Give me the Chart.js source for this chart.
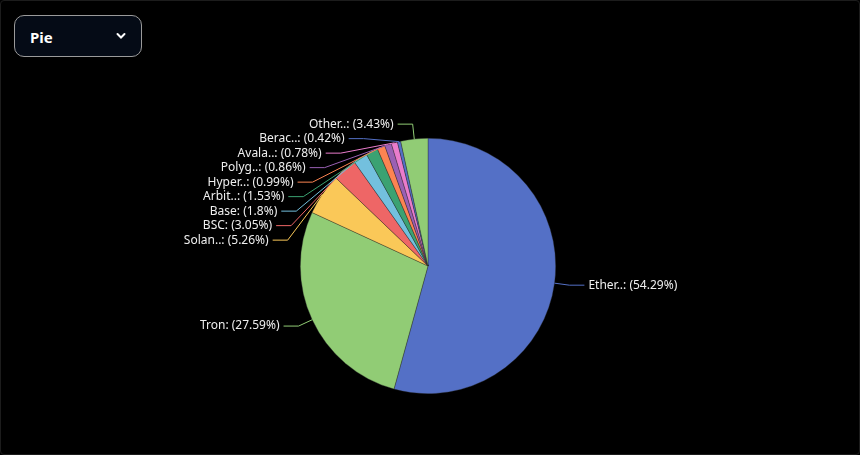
<!DOCTYPE html>
<html><head><meta charset="utf-8">
<script src="https://cdn.jsdelivr.net/npm/chart.js@4"></script>
<style>
html,body{margin:0;padding:0;background:#000;width:860px;height:455px;overflow:hidden;font-family:"Segoe UI","Noto Sans",sans-serif}
#frame{position:absolute;left:0;top:0;width:858px;height:453px;border:1px solid #1c1c1c;border-radius:4px}
#sel{position:absolute;left:14px;top:15px;width:128px;height:42px;border:1px solid #9a9a9a;border-radius:10px;background:#050b16;color:#fff;font-weight:bold;font-size:15px;box-sizing:border-box;padding:0 0 0 15px;line-height:42px}
#sel svg{position:absolute;right:15px;top:16px}
canvas{position:absolute;left:0;top:0}
</style></head><body>
<div id="frame"></div>
<canvas id="c" width="860" height="455"></canvas>
<div id="sel">Pie<svg width="10" height="8" viewBox="0 0 10 8"><path d="M1.5 2 L5 5.5 L8.5 2" stroke="#fff" stroke-width="2" fill="none" stroke-linecap="round"/></svg></div>
<script>
const labels=["Ether..","Tron","Solan..","BSC","Base","Arbit..","Hyper..","Polyg..","Avala..","Berac..","Other.."];
const values=[54.29,27.59,5.26,3.05,1.8,1.53,0.99,0.86,0.78,0.42,3.43];
const colors=["#5470c6","#91cc75","#fac858","#ee6666","#73c0de","#3ba272","#fc8452","#9a60b4","#ea7ccc","#5470c6","#91cc75"];
const labelPlugin={id:'lbl',afterDraw(chart){
 const ctx=chart.ctx,meta=chart.getDatasetMeta(0);
 const items=meta.data.map((a,i)=>{const mid=(a.startAngle+a.endAngle)/2;return{i,a,mid,cx:a.x,cy:a.y,r:a.outerRadius,right:Math.cos(mid)>=0};});
 const L=15,L2=15,gap=14.5;
 [true,false].forEach(side=>{
  const g=items.filter(o=>o.right===side);
  g.forEach(o=>{o.y=o.cy+(o.r+L)*Math.sin(o.mid);});
  g.sort((p,q)=>p.y-q.y);
  for(let k=1;k<g.length;k++){if(g[k].y-g[k-1].y<gap)g[k].y=g[k-1].y+gap;}
  g.forEach(o=>{const R=o.r+L,dy=o.y-o.cy;const dx=Math.sqrt(Math.max(0,R*R-dy*dy));
   o.x=o.cx+(side?dx:-dx);
   if(Math.abs(o.y-(o.cy+R*Math.sin(o.mid)))<0.5)o.x=o.cx+R*Math.cos(o.mid);});
 });
 ctx.save();ctx.font='12px "Segoe UI","Noto Sans",sans-serif';ctx.textBaseline='middle';
 items.forEach(o=>{
  const px=o.cx+o.r*Math.cos(o.mid),py=o.cy+o.r*Math.sin(o.mid);
  const ex=o.x+(o.right?L2:-L2);
  ctx.strokeStyle=colors[o.i];ctx.lineWidth=1;ctx.beginPath();ctx.moveTo(px,py);ctx.lineTo(o.x,o.y);ctx.lineTo(ex,o.y);ctx.stroke();
  ctx.fillStyle='#eeeeee';ctx.textAlign=o.right?'left':'right';
  ctx.fillText(labels[o.i]+': ('+values[o.i]+'%)',ex+(o.right?4:-4),o.y);
 });
 ctx.restore();
}};
new Chart(document.getElementById('c'),{type:'pie',
 data:{labels,datasets:[{data:values,backgroundColor:colors,borderColor:'rgba(40,40,40,0.6)',borderWidth:0.6}]},
 options:{responsive:false,animation:false,layout:{padding:{top:138,bottom:61,left:0,right:4}},
  plugins:{legend:{display:false},tooltip:{enabled:false}}},
 plugins:[labelPlugin]});
</script></body></html>
